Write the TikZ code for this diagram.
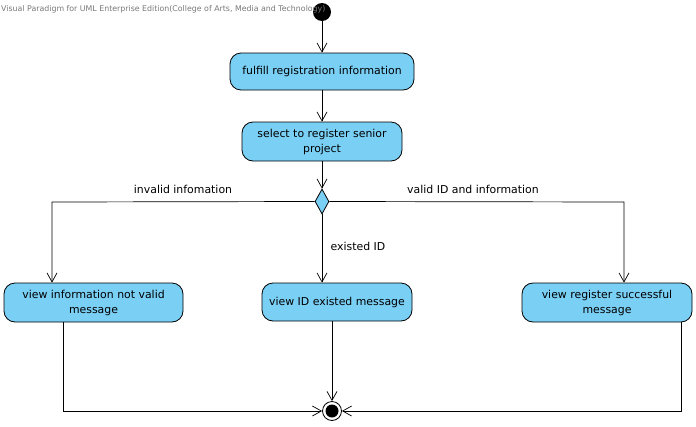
\documentclass[tikz,border=0pt]{standalone}
\usepackage{fontspec}
\setmainfont{DejaVu Sans}
\usetikzlibrary{shapes.geometric,arrows.meta}
\definecolor{actfill}{RGB}{122,207,245}
\definecolor{titlegray}{RGB}{120,120,120}
\begin{document}
\begin{tikzpicture}[x=1pt,y=-1pt,
  action/.style={draw=black,fill=actfill,rounded corners=11pt,align=center,font=\fontsize{10.9}{15}\selectfont,inner sep=0pt,line width=0.8pt},
  flow/.style={draw=black,line width=0.7pt,-{Straight Barb[length=9pt,width=10pt,line width=0.7pt]}},
  lbl/.style={font=\fontsize{10.9}{14}\selectfont,inner sep=0pt}]
\useasboundingbox (0,0) rectangle (696,426);
\node[circle,fill=black,minimum size=18pt,inner sep=0pt] (start) at (322,12) {};
\node[action,minimum width=184pt,minimum height=37pt] (a1) at (322,71.5) {fulfill registration information};
\node[action,minimum width=160pt,minimum height=39pt] (a2) at (322,141.5) {select to register senior\\project};
\node[diamond,draw=black,fill=actfill,line width=0.8pt,minimum width=14pt,minimum height=25pt,inner sep=0pt] (dec) at (322,201.5) {};
\node[action,minimum width=179pt,minimum height=39pt] (l) at (93.5,302.5) {view information not valid\\message};
\node[action,minimum width=150pt,minimum height=38pt] (m) at (337,302) {view ID existed message};
\node[action,minimum width=170pt,minimum height=39pt] (r) at (607,302.5) {view register successful\\message};
\node[circle,draw=black,fill=white,line width=0.8pt,minimum size=19pt,inner sep=0pt] (fin) at (332,411) {};
\node[circle,fill=black,minimum size=13pt,inner sep=0pt] (fincore) at (fin) {};
\coordinate (lc) at (52,202);
\coordinate (rc) at (624,202);
\coordinate (lb) at (63,411);
\coordinate (rb) at (681,411);
\draw[flow] (start) -- (a1);
\draw[flow] (a1) -- (a2);
\draw[flow] (a2) -- (dec);
\draw[flow] (dec.west) -- (lc) -- (l.north -| lc);
\draw[flow] (dec.east) -- (rc) -- (r.north -| rc);
\draw[flow] (dec) -- (m.north -| dec);
\draw[flow] (l.south -| lb) -- (lb) -- (fin);
\draw[flow] (r.south -| rb) -- (rb) -- (fin);
\draw[flow] (m.south -| fin) -- (fin);
\node[lbl] (t1) at (183,189) {invalid infomation};
\node[lbl] (t2) at (473,189) {valid ID and information};
\node[lbl] (t3) at (358,246) {existed ID};
\node[anchor=west,text=titlegray,font=\fontsize{7.85}{9}\selectfont,inner sep=0pt] (title) at (1,9) {Visual Paradigm for UML Enterprise Edition(College of Arts, Media and Technology)};
\end{tikzpicture}
\end{document}
